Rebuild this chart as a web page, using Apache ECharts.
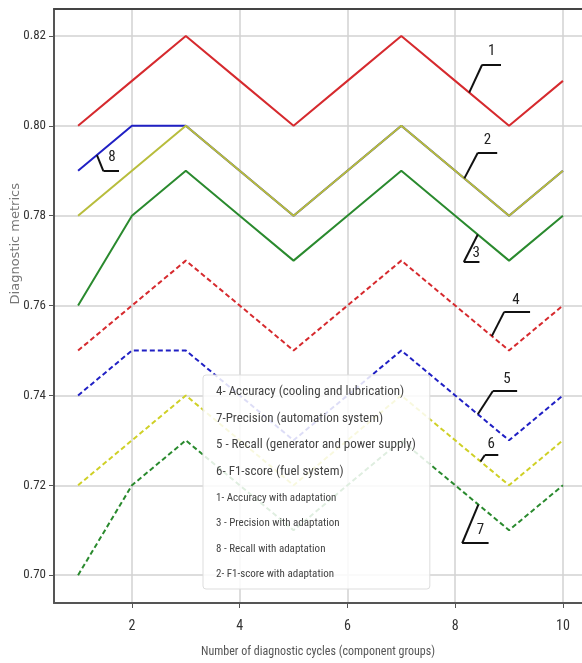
<!DOCTYPE html>
<html>
<head>
<meta charset="utf-8">
<script src="https://cdn.jsdelivr.net/npm/echarts@6/dist/echarts.min.js"></script>
<style>
	html, body { margin: 0; padding: 0; background: #fff; }
	#chart { width: 582px; height: 663px; }
</style>
</head>
<body>
<div id="chart"></div>
<script>
	// 数据
	var cycles = [1, 2, 3, 4, 5, 6, 7, 8, 9, 10];
	var xTicks = [2, 4, 6, 8, 10];
	var yTicks = [0.70, 0.72, 0.74, 0.76, 0.78, 0.80, 0.82];

	var accAdapt = [0.80, 0.81, 0.82, 0.81, 0.80, 0.81, 0.82, 0.81, 0.80, 0.81];      // 1
	var f1Adapt = [0.78, 0.79, 0.80, 0.79, 0.78, 0.79, 0.80, 0.79, 0.78, 0.79];       // 2
	var precAdapt = [0.76, 0.78, 0.79, 0.78, 0.77, 0.78, 0.79, 0.78, 0.77, 0.78];     // 3
	var recallAdapt = [0.79, 0.80, 0.80, 0.79, 0.78, 0.79, 0.80, 0.79, 0.78, 0.79];   // 8
	var accCooling = [0.75, 0.76, 0.77, 0.76, 0.75, 0.76, 0.77, 0.76, 0.75, 0.76];    // 4
	var recallPower = [0.74, 0.75, 0.75, 0.74, 0.73, 0.74, 0.75, 0.74, 0.73, 0.74];   // 5
	var f1Fuel = [0.72, 0.73, 0.74, 0.73, 0.72, 0.73, 0.74, 0.73, 0.72, 0.73];        // 6
	var precAuto = [0.70, 0.72, 0.73, 0.72, 0.71, 0.72, 0.73, 0.72, 0.71, 0.72];      // 7

	// 标注 (1-8 号引线)
	var annoNames = ['1', '2', '3', '4', '5', '6', '7', '8'];
	var annoStart = [[8.26, 0.8074], [8.17, 0.7883], [8.42, 0.7758], [8.68, 0.7532], [8.42, 0.7358], [8.47, 0.7253], [8.43, 0.7157], [1.35, 0.7935]];
	var annoElbow = [[8.50, 0.8136], [8.42, 0.7940], [8.16, 0.7697], [8.91, 0.7586], [8.70, 0.7410], [8.55, 0.7267], [8.13, 0.7071], [1.47, 0.7899]];
	var annoEnd = [[8.85, 0.8136], [8.78, 0.7940], [8.45, 0.7697], [9.39, 0.7586], [9.15, 0.7410], [8.80, 0.7267], [8.62, 0.7071], [1.76, 0.7899]];
	var annoText = [[8.68, 0.8165], [8.60, 0.7968], [8.39, 0.7716], [9.13, 0.7611], [8.96, 0.7436], [8.67, 0.7291], [8.47, 0.7099], [1.63, 0.7931]];

	var narrow = '"Liberation Sans Narrow", "Roboto Condensed", sans-serif';

	function pairs(ys) {
		return cycles.map(function(x, i) { return [x, ys[i]]; });
	}

	function line(name, ys, color, dashed) {
		return {
			name : name,
			type : 'line',
			data : pairs(ys),
			showSymbol : false,
			symbol : 'none',
			color : color,
			lineStyle : { color : color, width : 2, type : dashed ? [5, 3] : 'solid' }
		};
	}

	var segs = [];
	var labels = [];
	for (var i = 0; i < annoNames.length; i++) {
		segs.push([{ coord : annoStart[i] }, { coord : annoElbow[i] }]);
		segs.push([{ coord : annoElbow[i] }, { coord : annoEnd[i] }]);
		labels.push({ name : annoNames[i], coord : annoText[i] });
	}

	var bigText = { fontSize : 13, fontFamily : narrow, color : '#444' };
	var smallText = { fontSize : 11, fontFamily : narrow, color : '#444' };
	var xMin = 0.553, xMax = 10.354;

	var chart = echarts.init(document.getElementById('chart'));
	chart.setOption({
		animation : false,
		backgroundColor : '#fff',
		grid : { left : 54, top : 9, right : 0, bottom : 57 },
		legend : {
			orient : 'vertical',
			left : 203, top : 375,
			padding : [10, 14, 9, 5],
			itemGap : 13,
			itemWidth : 3, itemHeight : 14,
			icon : 'none',
			backgroundColor : 'rgba(255,255,255,0.85)',
			borderColor : '#ddd', borderWidth : 1, borderRadius : 3,
			selectedMode : false,
			data : [
				{ name : '4- Accuracy (cooling and lubrication)', textStyle : bigText },
				{ name : '7-Precision (automation system)', textStyle : bigText },
				{ name : '5 - Recall (generator and power supply)', textStyle : bigText },
				{ name : '6- F1-score (fuel system)', textStyle : bigText },
				{ name : '1- Accuracy with adaptation', textStyle : smallText },
				{ name : '3 - Precision with adaptation', textStyle : smallText },
				{ name : '8 - Recall with adaptation', textStyle : smallText },
				{ name : '2- F1-score with adaptation', textStyle : smallText }
			]
		},
		xAxis : [{
			type : 'value',
			min : xMin, max : xMax,
			name : 'Number of diagnostic cycles (component groups)',
			nameLocation : 'middle',
			nameGap : 43,
			nameTextStyle : { fontSize : 12, fontFamily : narrow, color : '#555' },
			axisLine : { lineStyle : { color : '#555', width : 2 } },
			axisTick : { show : true, length : 5, customValues : xTicks, lineStyle : { color : '#555' } },
			axisLabel : { customValues : xTicks, margin : 16, fontSize : 14, fontFamily : narrow, color : '#333' },
			splitLine : { show : true, lineStyle : { color : '#d2d2d2', width : 1.5 } }
		}, {
			// 顶部边框
			type : 'value',
			position : 'top',
			min : xMin, max : xMax,
			axisLine : { show : true, lineStyle : { color : '#444', width : 2 } },
			axisTick : { show : false },
			axisLabel : { show : false },
			splitLine : { show : false }
		}],
		yAxis : {
			type : 'value',
			min : 0.6938, max : 0.826,
			axisLine : { show : true, lineStyle : { color : '#555', width : 2 } },
			axisTick : { show : true, length : 5, customValues : yTicks, lineStyle : { color : '#555' } },
			axisLabel : {
				customValues : yTicks, margin : 8, fontSize : 13, fontFamily : narrow, color : '#333',
				formatter : function(v) { return v.toFixed(2); }
			},
			splitLine : { show : true, lineStyle : { color : '#d2d2d2', width : 1.5 } }
		},
		graphic : [{
			type : 'text',
			left : 9, top : 183,
			rotation : Math.PI / 2,
			style : { text : 'Diagnostic metrics', fontSize : 13, fontFamily : '"DejaVu Sans", sans-serif', fill : '#777' }
		}],
		series : [
			line('8 - Recall with adaptation', recallAdapt, '#2020c4', false),
			line('1- Accuracy with adaptation', accAdapt, '#d62a2e', false),
			line('2- F1-score with adaptation', f1Adapt, '#b8bd3c', false),
			line('3 - Precision with adaptation', precAdapt, '#2a8a2e', false),
			line('4- Accuracy (cooling and lubrication)', accCooling, '#d62a2e', true),
			line('5 - Recall (generator and power supply)', recallPower, '#2020c4', true),
			line('6- F1-score (fuel system)', f1Fuel, '#cfd026', true),
			line('7-Precision (automation system)', precAuto, '#2a8a2e', true),
			{
				name : 'annotations',
				type : 'line',
				data : [],
				silent : true,
				markLine : {
					silent : true,
					symbol : ['none', 'none'],
					label : { show : false },
					lineStyle : { color : '#111', width : 2, type : 'solid' },
					data : segs
				},
				markPoint : {
					silent : true,
					symbol : 'circle',
					symbolSize : 0,
					itemStyle : { color : 'transparent' },
					label : { show : true, position : 'inside', formatter : '{b}', fontSize : 15, fontFamily : narrow, color : '#222' },
					data : labels
				}
			}
		]
	});
</script>
</body>
</html>
